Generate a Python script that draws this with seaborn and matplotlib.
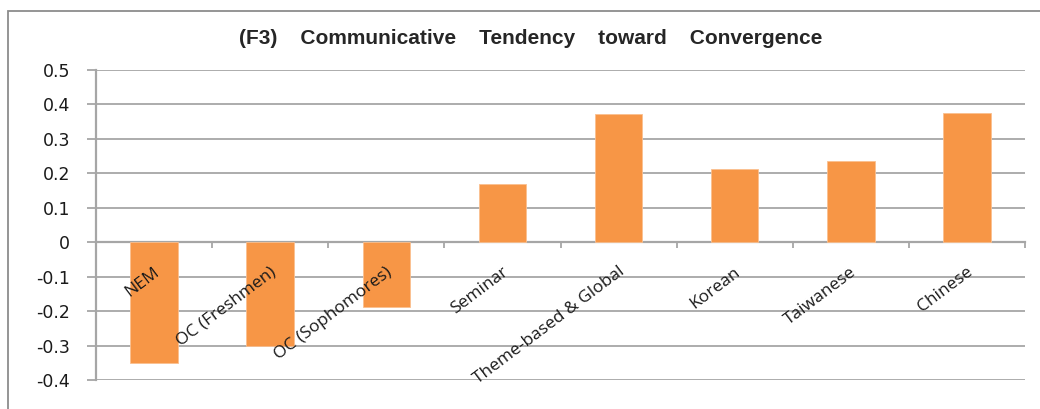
import numpy as np
import pandas as pd
import matplotlib
matplotlib.use("Agg")
import matplotlib.pyplot as plt
import matplotlib.transforms as mtransforms
from matplotlib.patches import Rectangle
import seaborn as sns

# данные с картинки
categories = ['NEM', 'OC (Freshmen)', 'OC (Sophomores)', 'Seminar',
              'Theme-based & Global', 'Korean', 'Taiwanese', 'Chinese']
values = [-0.35, -0.30, -0.188, 0.169, 0.371, 0.212, 0.237, 0.375]
y_ticks = [-0.4, -0.3, -0.2, -0.1, 0, 0.1, 0.2, 0.3, 0.4, 0.5]
y_labels = ['-0.4', '-0.3', '-0.2', '-0.1', '0', '0.1', '0.2', '0.3', '0.4', '0.5']
title = '(F3)    Communicative    Tendency    toward    Convergence'

df = pd.DataFrame({'cat': categories, 'val': values})

sns.set_style('white')
fig = plt.figure(figsize=(10.4, 4.09), dpi=100)
ax = fig.add_axes([96 / 1040, 1 - 380 / 409, (1025 - 96) / 1040, (380 - 70) / 409])

sns.barplot(data=df, x='cat', y='val', color='#F79646', saturation=1,
            width=0.41, ax=ax, zorder=3, edgecolor='#FAC090', linewidth=0.6)

grid_c = '#a6a6a6'
ax.set_ylim(-0.4, 0.5)
ax.set_xlim(-0.5, len(categories) - 0.5)
ax.set_yticks(y_ticks)
ax.set_yticklabels(y_labels, fontsize=12.5, family='DejaVu Sans', color='#1a1a1a')
ax.yaxis.grid(True, color=grid_c, linewidth=1.3, zorder=0)
ax.set_axisbelow(True)
ax.tick_params(axis='y', left=True, direction='out', length=6.5, width=1.3,
               color=grid_c, pad=12)

# ось X проходит через ноль, засечки на границах категорий
ax.spines['bottom'].set_position(('data', 0))
ax.spines['bottom'].set_color(grid_c)
ax.spines['bottom'].set_linewidth(1.6)
ax.spines['left'].set_color(grid_c)
ax.spines['left'].set_linewidth(1.6)
ax.spines['top'].set_visible(False)
ax.spines['right'].set_visible(False)
ax.set_xticks(np.arange(-0.5, len(categories), 1.0))
ax.set_xticklabels([])
ax.tick_params(axis='x', bottom=True, direction='out', length=4, width=1.3, color=grid_c)
ax.set_xlabel('')
ax.set_ylabel('')

# подписи категорий под нулевой линией (картинка растянута, угол ~37)
off = mtransforms.offset_copy(ax.transData, fig=fig, x=4, y=-28, units='dots')
for i, c in enumerate(categories):
    ax.text(i, 0, c, transform=off, rotation=37, rotation_mode='anchor',
            ha='right', va='center', fontsize=12.5, family='Open Sans', color='#1a1a1a',
            zorder=5)

fig.text(531 / 1040, 1 - 38 / 409, title, ha='center', va='center',
         fontsize=15, fontweight='bold', family='Liberation Sans')

# рамка вокруг диаграммы
fig.patches.append(Rectangle((8 / 1040, -0.1), 1.2, 1 - 11 / 409 + 0.1,
                             transform=fig.transFigure, fill=False,
                             edgecolor='#8c8c8c', linewidth=1.3))

fig.savefig('out.png', dpi=100)
